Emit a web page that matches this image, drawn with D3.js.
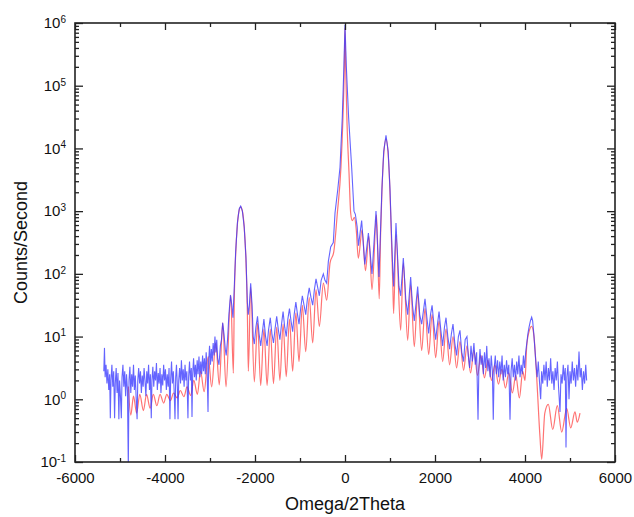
<!DOCTYPE html>
<html><head><meta charset="utf-8">
<script src="https://cdn.jsdelivr.net/npm/d3@7"></script>
<style>body{margin:0;background:#fff} svg{display:block;font-family:Arial,"Liberation Sans",sans-serif}</style>
</head><body><svg id="chart" width="634" height="517"></svg>
<script>
const xMajorTicks = [-6000, -4000, -2000, 0, 2000, 4000, 6000];
const xMinorTicks = [-5000, -3000, -1000, 1000, 3000, 5000];
const yDecadeTicks = [0.1, 1, 10, 100, 1000, 10000, 100000, 1000000];
const yExponentLabels = ["-1", "0", "1", "2", "3", "4", "5", "6"];
const xTitle = "Omega/2Theta";
const yTitle = "Counts/Second";

// simulated curve (red): [omega/2theta, counts/s]
const simulated = [
[-4815,1.6],[-4760,0.56],[-4700,1.12],[-4630,0.6],[-4560,1.2],[-4480,0.66],[-4410,1.2],[-4330,0.72],
[-4260,1.2],[-4180,0.79],[-4110,1.2],[-4030,0.87],[-3960,1.2],[-3880,0.95],[-3810,1.26],[-3730,1.05],
[-3660,1.38],[-3580,1.1],[-3510,1.58],[-3430,1.15],[-3360,2.0],[-3280,1.2],[-3210,2.8],[-3130,1.32],
[-3040,4.8],[-2963,1.58],[-2873,7.9],[-2793,1.7],[-2718,16.6],[-2644,1.58],[-2540,45.7],[-2481,2.6],
[-2460,40],[-2430,200],[-2390,631],[-2350,1050],[-2318,1175],[-2280,1000],[-2240,562],[-2200,158],
[-2170,25],[-2148,2.8],[-2096,61.7],[-2015,1.9],[-1944,16.6],[-1873,1.66],[-1802,13.2],[-1731,1.66],
[-1660,13.2],[-1589,1.78],[-1518,14.1],[-1447,2.0],[-1376,15.8],[-1305,2.3],[-1234,19],[-1163,2.8],
[-1092,24],[-1022,4.0],[-948,31.6],[-873,5.75],[-795,41.7],[-718,7.9],[-644,56],[-570,14.5],
[-481,71],[-407,38],[-333,148],[-250,224],[-170,933],[-90,5012],[-45,31623],[-15,199526],
[0,831764],[15,199526],[45,25119],[90,3981],[126,933],[160,708],[210,794],[250,501],
[296,178],[380,501],[455,112],[530,398],[600,56],[700,871],[760,40],[790,398],
[820,1995],[860,7943],[911,14125],[960,7943],[1000,1995],[1030,398],[1060,79],[1081,23.4],
[1133,417],[1237,12.6],[1296,148],[1393,8.7],[1459,66],[1540,6.9],[1615,49],[1704,6.0],
[1778,28],[1860,5.2],[1935,22.4],[2015,4.6],[2090,17.8],[2170,4.0],[2245,13.2],[2325,3.55],
[2400,10],[2480,3.16],[2555,8.3],[2635,2.9],[2710,7.1],[2790,2.63],[2865,6.0],[2945,2.4],
[3020,5.0],[3100,2.2],[3175,4.2],[3255,2.0],[3330,3.55],[3410,1.74],[3485,3.0],[3565,1.51],
[3640,2.63],[3720,1.26],[3795,2.4],[3875,1.05],[3950,2.8],[4000,2.0],[4037,6.9],[4090,12],
[4148,14.5],[4200,10],[4259,2.3],[4333,0.25],[4371,0.11],[4440,0.6],[4518,0.83],[4616,0.33],
[4718,0.79],[4816,0.3],[4927,0.72],[5016,0.35],[5111,0.63],[5162,0.43],[5222,0.6]
];

// measured curve (blue): [omega/2theta, counts/s]
const measured = [
[-5360,2.8],[-5345,6.6],[-5330,2.24],[-5310,3.55],[-5290,1.78],[-5270,3.0],[-5250,1.41],[-5230,2.5],
[-5215,0.5],[-5200,2.0],[-5180,3.55],[-5160,1.58],[-5140,2.8],[-5120,0.5],[-5105,1.78],[-5085,3.16],
[-5065,1.26],[-5045,2.63],[-5025,0.48],[-5010,2.0],[-4990,1.12],[-4970,0.5],[-4955,2.24],[-4935,3.55],
[-4915,1.58],[-4895,2.8],[-4875,1.12],[-4855,2.5],[-4835,1.41],[-4815,0.08],[-4800,2.0],[-4780,3.3],
[-4760,1.26],[-4740,2.5],[-4720,1.58],[-4700,3.55],[-4680,1.41],[-4660,2.4],[-4640,1.0],[-4620,0.48],
[-4605,2.0],[-4585,3.16],[-4565,1.78],[-4545,2.8],[-4525,1.26],[-4505,2.4],[-4485,1.58],[-4465,3.16],
[-4445,2.0],[-4425,1.12],[-4405,2.8],[-4385,1.78],[-4365,3.55],[-4345,1.41],[-4325,2.5],[-4305,0.5],
[-4290,2.0],[-4270,3.3],[-4250,1.58],[-4230,2.8],[-4210,2.0],[-4190,3.8],[-4170,1.41],[-4150,2.63],
[-4130,1.78],[-4110,3.16],[-4090,1.26],[-4070,2.5],[-4050,1.66],[-4030,3.55],[-4010,2.0],[-3990,3.0],
[-3970,1.41],[-3950,2.5],[-3930,1.58],[-3910,3.16],[-3890,0.48],[-3875,2.0],[-3855,4.0],[-3835,1.78],
[-3815,2.8],[-3795,1.26],[-3778,0.48],[-3762,2.24],[-3745,3.55],[-3725,1.58],[-3710,0.48],[-3695,2.0],
[-3675,3.16],[-3655,1.78],[-3635,4.2],[-3615,2.0],[-3595,3.0],[-3575,1.58],[-3555,3.55],[-3535,2.0],
[-3515,2.8],[-3490,0.5],[-3475,2.24],[-3455,4.0],[-3435,2.0],[-3415,3.16],[-3400,0.52],[-3385,2.5],
[-3365,4.5],[-3345,2.24],[-3325,3.55],[-3305,2.0],[-3285,4.2],[-3265,2.5],[-3245,4.8],[-3225,2.24],
[-3205,4.0],[-3185,2.5],[-3165,5.0],[-3145,2.8],[-3125,4.5],[-3105,2.5],[-3085,5.6],[-3065,3.16],
[-3044,0.63],[-3030,4.0],[-3010,7.1],[-2990,3.55],[-2970,6.3],[-2950,4.0],[-2930,7.9],[-2910,5.0],
[-2890,10],[-2870,5.6],[-2850,8.9],[-2830,4.5],[-2800,3.55],[-2770,7.1],[-2745,8.9],[-2718,16.6],
[-2690,11.2],[-2660,6.3],[-2640,5.0],[-2610,8.9],[-2580,22.4],[-2545,45.7],[-2515,31.6],[-2490,20],
[-2460,63],[-2430,224],[-2390,661],[-2350,1096],[-2318,1202],[-2280,1000],[-2240,562],[-2200,178],
[-2170,35.5],[-2150,22.4],[-2125,31.6],[-2096,71],[-2065,31.6],[-2040,10],[-2015,7.6],[-1980,14.1],
[-1944,21],[-1910,11.2],[-1873,7.1],[-1840,11.2],[-1802,19],[-1765,10],[-1731,7.1],[-1700,12.6],
[-1660,20],[-1625,11.2],[-1589,7.9],[-1555,13.2],[-1518,21],[-1480,12.6],[-1447,8.9],[-1410,15.8],
[-1376,25],[-1340,14.1],[-1305,10],[-1270,19],[-1234,28],[-1200,17.8],[-1163,12],[-1130,22.4],
[-1092,35.5],[-1055,22.4],[-1022,15.8],[-985,28],[-948,44.7],[-910,31.6],[-873,22.4],[-835,40],
[-795,60],[-755,41.7],[-718,31.6],[-680,56],[-644,83],[-605,60],[-570,44.7],[-530,79],
[-481,100],[-445,79],[-407,71],[-370,158],[-318,269],[-260,316],[-222,933],[-160,2239],
[-111,5012],[-60,31623],[-25,199526],[0,933254],[30,199526],[80,31623],[148,5012],[200,1000],
[230,891],[270,562],[300,282],[370,708],[440,141],[520,447],[600,100],[689,1000],
[755,89],[790,501],[820,2239],[860,8913],[911,16218],[960,8913],[1000,2239],[1030,501],
[1060,126],[1081,63],[1133,646],[1200,63],[1237,44.7],[1296,178],[1350,40],[1393,22.4],
[1459,89],[1500,31.6],[1540,17.8],[1615,63],[1660,22.4],[1704,15.8],[1778,40],[1820,20],
[1860,11.2],[1900,22.4],[1935,31.6],[1975,15.8],[2015,8.9],[2055,15.8],[2090,25],[2130,12.6],
[2170,7.1],[2210,14.1],[2245,20],[2285,10],[2325,6.3],[2365,11.2],[2400,15.8],[2440,7.9],
[2480,5.0],[2520,10],[2555,12.6],[2595,5.6],[2635,4.0],[2670,8.9],[2710,10],[2740,5.0],
[2770,3.16],[2800,7.1],[2830,4.0],[2865,7.9],[2895,3.55],[2925,5.6],[2956,0.47],[2975,3.16],
[3000,6.3],[3025,3.55],[3050,5.0],[3075,2.5],[3100,5.6],[3125,3.16],[3150,7.1],[3175,2.8],
[3200,4.5],[3225,2.24],[3250,5.0],[3275,2.8],[3295,0.47],[3315,3.16],[3340,5.0],[3365,2.5],
[3390,4.2],[3415,2.24],[3440,4.0],[3465,2.5],[3490,5.0],[3515,2.0],[3540,3.55],[3565,2.24],
[3590,4.2],[3615,2.5],[3640,3.55],[3667,0.47],[3690,2.8],[3715,4.5],[3740,2.24],[3765,3.55],
[3790,2.0],[3815,4.0],[3840,2.5],[3865,5.0],[3890,2.24],[3915,3.55],[3940,2.5],[3965,5.0],
[3990,3.16],[4015,5.6],[4040,7.9],[4065,11.2],[4090,14.1],[4120,17.8],[4148,20.4],[4170,17.8],
[4195,11.2],[4220,6.3],[4245,3.55],[4270,2.24],[4295,4.0],[4320,2.0],[4348,1.0],[4370,2.8],
[4395,1.78],[4420,3.55],[4445,2.0],[4470,4.0],[4495,1.58],[4520,3.16],[4545,2.0],[4570,4.5],
[4595,1.78],[4620,2.8],[4645,1.41],[4670,3.16],[4695,2.0],[4720,4.0],[4745,1.58],[4778,0.63],
[4800,2.5],[4825,1.78],[4850,3.55],[4875,2.0],[4895,3.16],[4911,0.17],[4930,2.24],[4955,3.55],
[4978,1.0],[5000,2.8],[5025,1.78],[5050,4.0],[5075,2.0],[5100,3.16],[5125,1.58],[5150,3.55],
[5175,2.0],[5200,5.75],[5225,2.24],[5250,3.16],[5275,1.41],[5300,2.8],[5325,1.78],[5350,3.55],
[5370,2.0]
];

const L = 75, R = 615, T = 23, B = 462;
const svg = d3.select("#chart");
const x = d3.scaleLinear().domain([-6000, 6000]).range([L, R]);
const y = d3.scaleLog().domain([0.1, 1e6]).range([B, T]);

svg.append("defs").append("clipPath").attr("id", "plotclip")
  .append("rect").attr("x", L).attr("y", T).attr("width", R - L).attr("height", B - T);

const plot = svg.append("g").attr("clip-path", "url(#plotclip)");
plot.append("path").datum(simulated)
  .attr("fill", "none").attr("stroke", "#ff6464").attr("stroke-width", 1.2).attr("stroke-opacity", 0.9)
  .attr("d", d3.line().x(d => x(d[0])).y(d => y(d[1])).curve(d3.curveMonotoneX));
plot.append("path").datum(measured)
  .attr("fill", "none").attr("stroke", "#3838ff").attr("stroke-width", 1.1).attr("stroke-opacity", 0.78)
  .attr("d", d3.line().x(d => x(d[0])).y(d => y(d[1])));

const yMinor = y.ticks().filter(v => !yDecadeTicks.some(d => Math.abs(v - d) / d < 1e-6));

function styleAxis(g) {
  g.select(".domain").remove();
  g.selectAll(".tick line").attr("stroke", "#222").attr("stroke-width", 1.3);
  g.selectAll(".tick text").attr("fill", "#111").attr("font-size", 15).attr("font-family", 'Arial,"Liberation Sans",sans-serif');
}

// bottom
svg.append("g").attr("transform", `translate(0,${B})`)
  .call(d3.axisBottom(x).tickValues(xMajorTicks).tickSize(-7).tickSizeOuter(0).tickPadding(10).tickFormat(d => String(d)))
  .call(styleAxis);
svg.append("g").attr("transform", `translate(0,${B})`)
  .call(d3.axisBottom(x).tickValues(xMinorTicks).tickSize(-4).tickSizeOuter(0).tickFormat(""))
  .call(styleAxis);
// top
svg.append("g").attr("transform", `translate(0,${T})`)
  .call(d3.axisTop(x).tickValues(xMajorTicks).tickSize(-7).tickSizeOuter(0).tickFormat(""))
  .call(styleAxis);
svg.append("g").attr("transform", `translate(0,${T})`)
  .call(d3.axisTop(x).tickValues(xMinorTicks).tickSize(-4).tickSizeOuter(0).tickFormat(""))
  .call(styleAxis);
// left
const gl = svg.append("g").attr("transform", `translate(${L},0)`)
  .call(d3.axisLeft(y).tickValues(yDecadeTicks).tickSize(-8).tickSizeOuter(0).tickPadding(9).tickFormat(() => ""))
  .call(styleAxis);
gl.selectAll(".tick text").each(function(d, i) {
  const t = d3.select(this);
  t.append("tspan").text("10");
  t.append("tspan").attr("dy", "-0.55em").attr("font-size", 10).text(yExponentLabels[i]);
});
svg.append("g").attr("transform", `translate(${L},0)`)
  .call(d3.axisLeft(y).tickValues(yMinor).tickSize(-4).tickSizeOuter(0).tickFormat(""))
  .call(styleAxis);
// right
svg.append("g").attr("transform", `translate(${R},0)`)
  .call(d3.axisRight(y).tickValues(yDecadeTicks).tickSize(-8).tickSizeOuter(0).tickFormat(""))
  .call(styleAxis);
svg.append("g").attr("transform", `translate(${R},0)`)
  .call(d3.axisRight(y).tickValues(yMinor).tickSize(-4).tickSizeOuter(0).tickFormat(""))
  .call(styleAxis);

// frame
svg.append("rect").attr("x", L).attr("y", T).attr("width", R - L).attr("height", B - T)
  .attr("fill", "none").attr("stroke", "#222").attr("stroke-width", 1.6);

// titles
svg.append("text").attr("x", (L + R) / 2).attr("y", 510).attr("text-anchor", "middle")
  .attr("font-size", 18).attr("fill", "#111").text(xTitle);
svg.append("text").attr("transform", `translate(27,${(T + B) / 2}) rotate(-90)`).attr("text-anchor", "middle")
  .attr("font-size", 18).attr("fill", "#111").text(yTitle);
</script></body></html>
